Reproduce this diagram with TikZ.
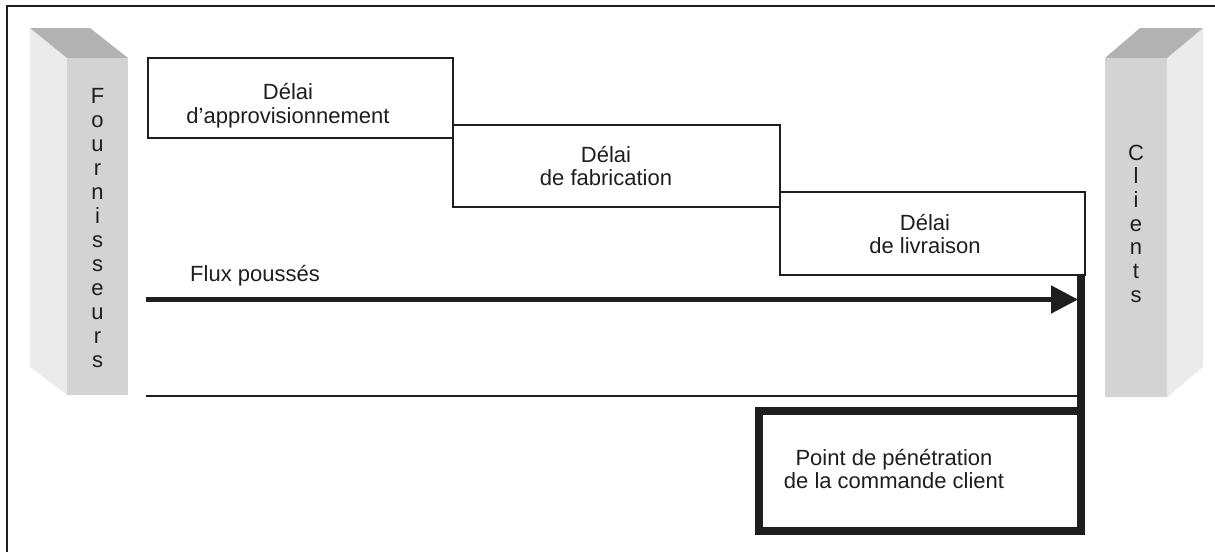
\documentclass[tikz,border=0pt]{standalone}
\usepackage{fontspec}
\setmainfont{Liberation Sans}
\usetikzlibrary{arrows.meta}
\definecolor{pillarfront}{HTML}{D3D3D3}
\definecolor{pillarside}{HTML}{EBEBEB}
\definecolor{pillartop}{HTML}{B2B2B2}
\definecolor{ink}{HTML}{1E1E1E}
\begin{document}
\begin{tikzpicture}[x=1pt,y=-1pt,
  every node/.style={font=\fontsize{22}{23.5}\selectfont, text=ink},
  delaybox/.style={draw=ink, line width=1.6pt, fill=white, inner sep=0pt,
    outer sep=0pt, anchor=north west},
  caption/.style={align=center, inner sep=0pt},
  letter/.style={anchor=base, inner sep=0pt},
  thickline/.style={draw=ink, line width=7.5pt},
]
\useasboundingbox (0,0) rectangle (1215,552);
\fill[white] (0,0) rectangle (1215,552);

% frame (top and left edges)
\draw[line width=2.4pt, ink] (7,552) -- (7,6) -- (1216,6);

% suppliers pillar
\fill[pillarside] (30,28) -- (67,58) -- (67,395) -- (30,367) -- cycle;
\fill[pillartop] (30,28) -- (90,28) -- (128,58) -- (67,58) -- cycle;
\fill[pillarfront] (67,58) rectangle (128,395);
\foreach \c [count=\i] in {F,o,u,r,n,i,s,s,e,u,r,s}
  \node[letter] (sup\i) at (97.5,{103+24*(\i-1)}) {\c};

% customers pillar
\fill[pillarside] (1167,58) -- (1203,28) -- (1203,367) -- (1167,397) -- cycle;
\fill[pillartop] (1105,58) -- (1140,28) -- (1203,28) -- (1167,58) -- cycle;
\fill[pillarfront] (1105,58) rectangle (1167,397);
\foreach \c [count=\i] in {C,l,i,e,n,t,s}
  \node[letter] (cli\i) at (1136,{160+23.7*(\i-1)}) {\c};

% lead-time boxes, staircase
\node[delaybox, minimum width=305pt, minimum height=80pt] (appro) at (148,58) {};
\node[delaybox, minimum width=327pt, minimum height=82pt] (fab) at (453,125) {};
\node[delaybox, minimum width=305pt, minimum height=83pt] (livr) at (780,192) {};
\node[caption] (approtxt) at (288,105.5) {Délai\\d’approvisionnement};
\node[caption] (fabtxt) at (606,166) {Délai\\de fabrication};
\node[caption] (livrtxt) at (925,234) {Délai\\de livraison};

% order penetration point
\node[delaybox, thickline, minimum width=322pt, minimum height=120pt] (ppc) at (759,411) {};
\node[caption] (ppctxt) at (894,469) {Point de pénétration\\de la commande client};
\draw[thickline] (ppc.north east |- livr.south) -- (ppc.north east);

% pushed flows
\node[anchor=base west, inner sep=0pt] (flux) at (190,281) {Flux poussés};
\coordinate (pushstart) at (146,299.5);
\coordinate (pushend) at (1078,299.5);
\draw[ink, line width=5pt, -{Triangle[length=27pt, width=27pt]}] (pushstart) -- (pushend);

% pulled flows baseline
\coordinate (pullstart) at (146,396);
\draw[ink, line width=2pt] (pullstart) -- (pullstart -| ppc.north east);
\end{tikzpicture}
\end{document}
